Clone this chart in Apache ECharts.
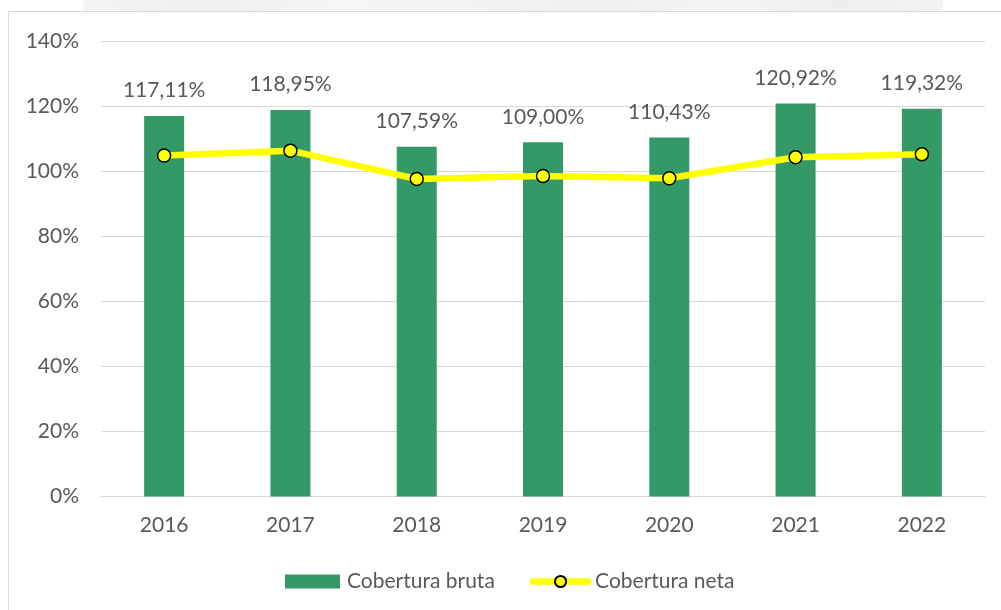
<!DOCTYPE html>
<html>
<head>
<meta charset="utf-8">
<script src="https://cdn.jsdelivr.net/npm/echarts@6/dist/echarts.min.js"></script>
<style>
  html, body { margin: 0; padding: 0; background: #fff; }
  .band {
    position: absolute; left: 83px; top: 0; width: 860px; height: 11px;
    background: linear-gradient(90deg, #f4f4f4 0%, #efefef 15%, #f6f6f6 30%, #f2f2f2 50%, #efefef 60%, #f5f5f5 75%, #eeeeee 88%, #f3f3f3 100%);
  }
  .frame {
    position: absolute; left: 8px; top: 11px; width: 1100px; height: 700px;
    border-left: 1px solid #d9d9d9; border-top: 1px solid #d9d9d9;
  }
  #chart { position: absolute; left: 0; top: 0; width: 1001px; height: 610px; }
</style>
</head>
<body>
<div class="band"></div>
<div class="frame"></div>
<div id="chart"></div>
<script>
const years = ['2016', '2017', '2018', '2019', '2020', '2021', '2022']
const bruta = [117.11, 118.95, 107.59, 109.00, 110.43, 120.92, 119.32]
const neta = [104.9, 106.4, 97.7, 98.6, 97.9, 104.4, 105.3]

const font = 'Lato'
const grey = '#595959'

function pct(v) {
  return v.toFixed(2).replace('.', ',') + '%'
}

const option = {
  animation: false,
  textStyle: {fontFamily: font},
  grid: {left: 101, right: 16, top: 41.5, bottom: 113.5},
  legend: {
    left: 285,
    top: 571,
    padding: 0,
    itemWidth: 55,
    itemHeight: 14,
    itemGap: 35,
    textStyle: {fontFamily: font, fontSize: 21, color: grey, padding: [0, 0, 0, 2]},
    data: [
      {name: 'Cobertura bruta', icon: 'rect'},
      {name: 'Cobertura neta', lineStyle: {width: 6.5, cap: 'round'}}
    ]
  },
  xAxis: {
    type: 'category',
    data: years,
    axisLine: {lineStyle: {color: '#d9d9d9', width: 1.2}},
    axisTick: {show: false},
    axisLabel: {fontFamily: font, fontSize: 21, color: grey, margin: 18}
  },
  yAxis: {
    type: 'value',
    min: 0,
    max: 140,
    interval: 20,
    axisLine: {show: false},
    axisTick: {show: false},
    splitLine: {lineStyle: {color: '#d9d9d9', width: 1.2}},
    axisLabel: {fontFamily: font, fontSize: 21, color: grey, margin: 22, formatter: '{value}%'}
  },
  series: [
    {
      name: 'Cobertura bruta',
      type: 'bar',
      data: bruta,
      barWidth: 40,
      itemStyle: {color: '#339966'},
      label: {
        show: true,
        position: 'top',
        distance: 15,
        fontFamily: font,
        fontSize: 21,
        color: grey,
        formatter: p => pct(p.value)
      }
    },
    {
      name: 'Cobertura neta',
      type: 'line',
      data: neta,
      symbol: 'circle',
      symbolSize: 13,
      lineStyle: {color: '#ffff00', width: 6.5},
      itemStyle: {color: '#ffff00', borderColor: '#000', borderWidth: 1.5},
      z: 3
    }
  ]
}

const myChart = echarts.init(document.getElementById('chart'))
myChart.setOption(option)
</script>
</body>
</html>
